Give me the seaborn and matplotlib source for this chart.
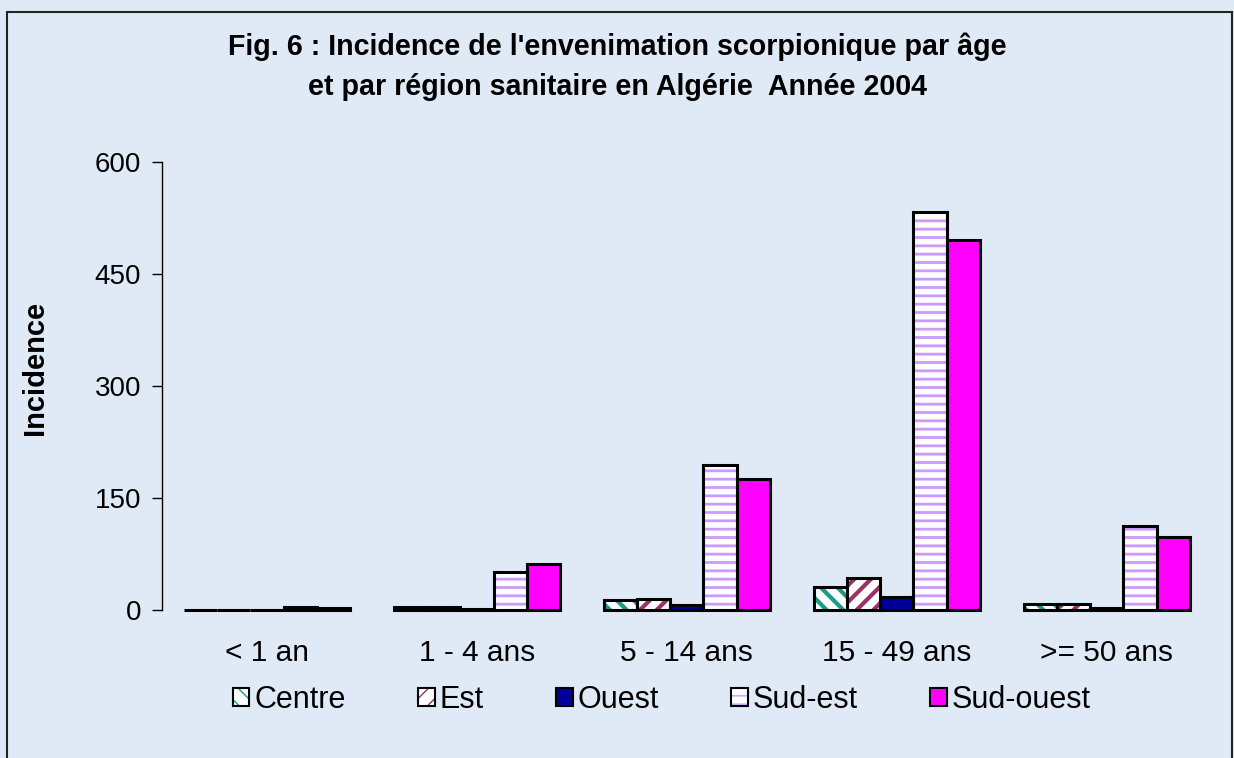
import numpy as np
import pandas as pd
import seaborn as sns
import matplotlib.pyplot as plt
from matplotlib.patches import Rectangle
from matplotlib.legend_handler import HandlerTuple

# data
categories = ['< 1 an', '1 - 4 ans', '5 - 14 ans', '15 - 49 ans', '>= 50 ans']
regions = ['Centre', 'Est', 'Ouest', 'Sud-est', 'Sud-ouest']
centre = [0.5, 4, 13, 31, 8]
est = [0.5, 4, 15, 43, 8]
ouest = [0.3, 1, 7, 17, 2]
sud_est = [4, 51, 194, 533, 113]
sud_ouest = [3, 61, 175, 496, 98]
yticks = [0, 150, 300, 450, 600]

values = [centre, est, ouest, sud_est, sud_ouest]
df = pd.DataFrame({
    'age': categories * len(regions),
    'region': [r for r in regions for _ in categories],
    'incidence': [v for vals in values for v in vals],
})

# style of each region: face, hatch, hatch colour, hatch width
styles = {
    'Centre': ('white', '\\\\', '#1a9a8a', 3.0),
    'Est': ('white', '//', '#993366', 3.0),
    'Ouest': ('#000099', '', '#000099', 1),
    'Sud-est': ('white', '--', '#cc99ff', 2.0),
    'Sud-ouest': ('#ff00ff', '', '#ff00ff', 1),
}

sns.set_theme(style='white')
plt.rcParams['font.family'] = ['Liberation Sans', 'DejaVu Sans']
plt.rcParams['text.color'] = 'black'
plt.rcParams['axes.labelcolor'] = 'black'
plt.rcParams['xtick.color'] = 'black'
plt.rcParams['ytick.color'] = 'black'


def hatched(xy, w, h, reg, **kw):
    face, hatch, hcol, hlw = styles[reg]
    plt.rcParams['hatch.linewidth'] = hlw
    r = Rectangle(xy, w, h, facecolor=face, hatch=hatch, edgecolor=hcol,
                  linewidth=0, **kw)
    if hasattr(r, 'set_hatch_linewidth'):
        r.set_hatch_linewidth(hlw)
    return r


bg = '#dfeaf6'
fig = plt.figure(figsize=(12.34, 7.58), dpi=100, facecolor=bg)
ax = fig.add_axes([0.1313, 0.1953, 0.8507, 0.591])
ax.set_facecolor(bg)

sns.barplot(data=df, x='age', y='incidence', hue='region', order=categories,
            hue_order=regions, width=0.79, ax=ax, legend=False, saturation=1)

bars = [p for p in ax.patches if isinstance(p, Rectangle)][:len(categories) * len(regions)]
for i, p in enumerate(bars):
    reg = regions[i // len(categories)]
    xy, w, h = p.get_xy(), p.get_width(), p.get_height()
    p.set_visible(False)
    ax.add_patch(hatched(xy, w, h, reg, zorder=2))
    ax.add_patch(Rectangle(xy, w, h, fill=False, edgecolor='black',
                           linewidth=2.2, clip_on=False, zorder=3))

ax.set_ylim(0, 600)
ax.set_xlim(-0.5, len(categories) - 0.5)
ax.set_yticks(yticks)
ax.tick_params(axis='y', direction='out', length=7, width=1, color='black',
               labelsize=20, pad=8, left=True)
ax.tick_params(axis='x', length=0, labelsize=21.5, pad=21)
for s in ['top', 'right', 'bottom']:
    ax.spines[s].set_visible(False)
ax.spines['left'].set_color('black')
ax.spines['left'].set_linewidth(1)
ax.set_xlabel('')
ax.set_ylabel('Incidence', fontsize=21, fontweight='bold')
ax.yaxis.set_label_coords(-0.108, 0.54)

fig.text(0.5, 0.912, "Fig. 6 : Incidence de l'envenimation scorpionique par âge\n"
         "et par région sanitaire en Algérie  Année 2004",
         ha='center', va='center', fontsize=20.6, fontweight='bold', linespacing=1.55)

# legend
handles = []
for reg in regions:
    handles.append((hatched((0, 0), 1, 1, reg),
                    Rectangle((0, 0), 1, 1, fill=False, edgecolor='black', linewidth=1.5)))
leg = fig.legend(handles, regions, loc='center', bbox_to_anchor=(0.536, 0.077),
                 ncol=5, frameon=False, fontsize=22, handlelength=0.55,
                 handleheight=0.55, handletextpad=0.15, columnspacing=2.37,
                 handler_map={tuple: HandlerTuple(ndivide=1)})

# border round the chart area
fig.patches.append(Rectangle((7 / 1234, -0.02), 1225 / 1234, 1.02 - 12 / 758,
                             transform=fig.transFigure, fill=False,
                             edgecolor='#222222', linewidth=1.5))

fig.savefig('out.png', dpi=100, facecolor=bg)
